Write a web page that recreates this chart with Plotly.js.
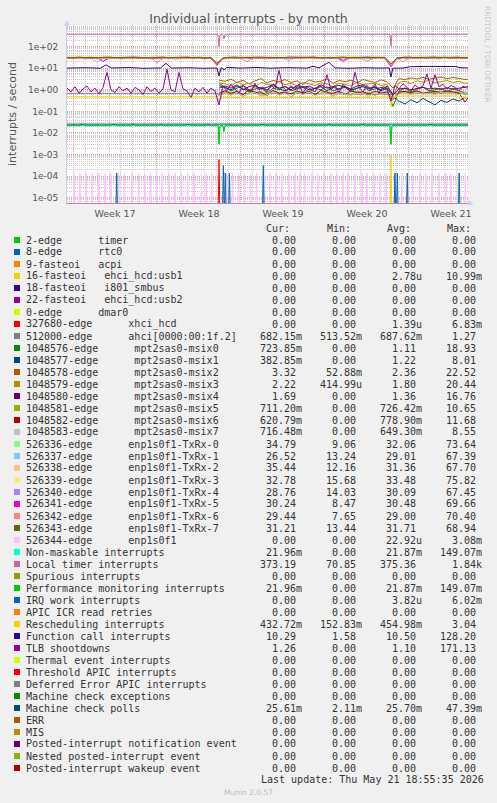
<!DOCTYPE html>
<html><head><meta charset="utf-8">
<script src="https://cdn.plot.ly/plotly-3.0.1.min.js"></script>
<style>html,body{margin:0;padding:0;background:#f0f0f0;}#chart{width:497px;height:803px;}</style>
</head><body><div id="chart"></div>
<script>
// ---------------- legend table ----------------
const labels = [
 "2-edge      timer","8-edge      rtc0","9-fasteoi   acpi","16-fasteoi   ehci_hcd:usb1","18-fasteoi   i801_smbus",
 "22-fasteoi   ehci_hcd:usb2","0-edge      dmar0","327680-edge      xhci_hcd","512000-edge      ahci[0000:00:1f.2]",
 "1048576-edge      mpt2sas0-msix0","1048577-edge      mpt2sas0-msix1","1048578-edge      mpt2sas0-msix2",
 "1048579-edge      mpt2sas0-msix3","1048580-edge      mpt2sas0-msix4","1048581-edge      mpt2sas0-msix5",
 "1048582-edge      mpt2sas0-msix6","1048583-edge      mpt2sas0-msix7",
 "526336-edge      enp1s0f1-TxRx-0","526337-edge      enp1s0f1-TxRx-1","526338-edge      enp1s0f1-TxRx-2",
 "526339-edge      enp1s0f1-TxRx-3","526340-edge      enp1s0f1-TxRx-4","526341-edge      enp1s0f1-TxRx-5",
 "526342-edge      enp1s0f1-TxRx-6","526343-edge      enp1s0f1-TxRx-7","526344-edge      enp1s0f1",
 "Non-maskable interrupts","Local timer interrupts","Spurious interrupts","Performance monitoring interrupts",
 "IRQ work interrupts","APIC ICR read retries","Rescheduling interrupts","Function call interrupts","TLB shootdowns",
 "Thermal event interrupts","Threshold APIC interrupts","Deferred Error APIC interrupts","Machine check exceptions",
 "Machine check polls","ERR","MIS","Posted-interrupt notification event","Nested posted-interrupt event",
 "Posted-interrupt wakeup event"
];
const colors = [
 "#00CC00","#0066B3","#FF8000","#FFCC00","#330099","#990099","#CCFF00","#FF0000","#808080","#008F00",
 "#00487D","#B35A00","#B38F00","#6B006B","#8FB300","#B30000","#BEBEBE","#80FF80","#80C9FF","#FFC080",
 "#FFE680","#AA80FF","#EE00CC","#FF8080","#666600","#FFBFFF","#00FFCC","#CC6699","#999900","#00CC00",
 "#0066B3","#FF8000","#FFCC00","#330099","#990099","#CCFF00","#FF0000","#808080","#008F00","#00487D",
 "#B35A00","#B38F00","#6B006B","#8FB300","#B30000"
];
const curVals = ["0.00","0.00","0.00","0.00","0.00","0.00","0.00","0.00","682.15m","723.85m","382.85m","3.32","2.22","1.69","711.20m","620.79m","716.48m",
 "34.79","26.52","35.44","32.78","28.76","30.24","29.44","31.21","0.00","21.96m","373.19","0.00","21.96m","0.00","0.00","432.72m","10.29","1.26",
 "0.00","0.00","0.00","0.00","25.61m","0.00","0.00","0.00","0.00","0.00"];
const minVals = ["0.00","0.00","0.00","0.00","0.00","0.00","0.00","0.00","513.52m","0.00","0.00","52.88m","414.99u","0.00","0.00","0.00","0.00",
 "9.06","13.24","12.16","15.68","14.03","8.47","7.65","13.44","0.00","0.00","70.85","0.00","0.00","0.00","0.00","152.83m","1.58","0.00",
 "0.00","0.00","0.00","0.00","2.11m","0.00","0.00","0.00","0.00","0.00"];
const avgVals = ["0.00","0.00","0.00","2.78u","0.00","0.00","0.00","1.39u","687.62m","1.11","1.22","2.36","1.80","1.36","726.42m","778.90m","649.30m",
 "32.06","29.01","31.36","33.48","30.09","30.48","29.00","31.71","22.92u","21.87m","375.36","0.00","21.87m","3.82u","0.00","454.98m","10.50","1.10",
 "0.00","0.00","0.00","0.00","25.70m","0.00","0.00","0.00","0.00","0.00"];
const maxVals = ["0.00","0.00","0.00","10.99m","0.00","0.00","0.00","6.83m","1.27","18.93","8.01","22.52","20.44","16.76","10.65","11.68","8.55",
 "73.64","67.39","67.70","75.82","67.45","69.66","70.40","68.94","3.08m","149.07m","1.84k","0.00","149.07m","6.02m","0.00","3.04","128.20","171.13",
 "0.00","0.00","0.00","0.00","47.39m","0.00","0.00","0.00","0.00","0.00"];
const columnHeads = ["Cur:","Min:","Avg:","Max:"];
const lastUpdate = "Last update: Thu May 21 18:55:35 2026";
const versionText = "Munin 2.0.57";

// ---------------- axes ----------------
const xRangeDays = [0, 33.42];           // days since start of graph window
const weekStarts = [0.5, 7.5, 14.5, 21.5, 28.5];
const weekLabels = ["Week 17","Week 18","Week 19","Week 20","Week 21"];
const yDecades = [1e-5,1e-4,1e-3,1e-2,1e-1,1,10,100];
const yTickText = ["1e-05","1e-04","1e-03","1e-02","1e-01","1e+00","1e+01","1e+02"];

// ---------------- series data (time in days, value in interrupts/s) ----------------
const zeroLine = [[0,0],[33.42,0]];
const xhciSpikes = [[12.67,5.9e-4]];
const usb1Spikes = [[27.0,9.0e-4]];
const irqWorkSpikes = [[4.14,1.4e-4],[13.03,3.1e-4],[13.19,1.4e-4],[13.54,1.4e-4],[16.36,3.1e-4],[27.33,1.4e-4],[27.53,1.4e-4],[28.36,1.4e-4],[32.69,1.4e-4]];
const enpSpikes = [[0.58,1.4e-4],[1.08,1.4e-4],[1.6,1.3e-4],[2.1,1.4e-4],[2.67,1.4e-4],[3.17,1.3e-4],[3.67,1.4e-4],[4.3,1.4e-4],[4.8,1.3e-4],[5.4,1.4e-4],
 [5.97,1.4e-4],[6.5,1.3e-4],[6.97,1.4e-4],[7.47,1.4e-4],[7.9,1.3e-4],[8.5,1.4e-4],[9.0,1.4e-4],[9.56,1.3e-4],[10.06,1.4e-4],[10.6,1.4e-4],
 [11.2,1.3e-4],[11.6,1.4e-4],[12.06,1.4e-4],[13.3,1.3e-4],[13.8,1.4e-4],[14.3,1.4e-4],[14.8,1.3e-4],[15.3,1.4e-4],[15.8,1.4e-4],[16.4,1.3e-4],
 [16.9,1.4e-4],[17.4,1.4e-4],[17.9,1.3e-4],[18.5,1.4e-4],[19.0,1.4e-4],[19.4,1.3e-4],[19.8,1.4e-4],[20.4,1.4e-4],[20.9,1.3e-4],[21.4,1.4e-4],
 [22.0,1.4e-4],[22.5,1.3e-4],[23.0,1.4e-4],[23.4,1.4e-4],[24.0,1.3e-4],[24.6,1.4e-4],[25.0,1.4e-4],[25.6,1.3e-4],[26.1,1.4e-4],[26.6,1.4e-4],
 [27.33,1.3e-4],[27.9,1.4e-4],[28.4,1.4e-4],[28.8,1.3e-4],[29.4,1.4e-4],[29.9,1.4e-4],[30.4,1.3e-4],[31.0,1.4e-4],[31.6,1.4e-4],[32.0,1.3e-4],
 [32.6,1.4e-4],[33.2,1.4e-4]];

const ahci = [[0,0.69],[6,0.70],[12.6,0.69],[12.67,0.55],[12.8,0.69],[20,0.68],[27.0,0.6],[27.1,0.69],[33.42,0.68]];
const localTimer = [[0,376],[12.58,376],[12.67,100],[12.75,360],[12.98,376],[13.08,230],[13.17,376],[26.92,376],[27.0,105],[27.08,376],[33.42,376]];
const nmi = [[0,0.0219],[12.6,0.0219],[12.67,0.0031],[12.75,0.0219],[13.0,0.0219],[13.08,0.0118],[13.17,0.0219],[26.92,0.0219],[27.0,0.003],[27.08,0.0219],[33.42,0.0219]];
const perfMon = [[0,0.0219],[1.1,0.0219],[1.15,0.0245],[1.4,0.0245],[1.45,0.0219],[3.7,0.0219],[3.75,0.0245],[4.0,0.0245],[4.05,0.0219],
 [5.4,0.0219],[5.45,0.0245],[5.6,0.0245],[5.65,0.0219],[7.7,0.0219],[7.75,0.0245],[7.9,0.0245],[7.95,0.0219],[9.9,0.0219],[9.95,0.0245],
 [10.2,0.0245],[10.25,0.0219],[11.6,0.0219],[11.65,0.0245],[11.85,0.0245],[11.9,0.0219],[12.6,0.0219],[12.67,0.0031],[12.75,0.0219],[13.0,0.0219],
 [13.08,0.0118],[13.17,0.0219],[16.1,0.0219],[16.15,0.0245],[16.35,0.0245],[16.4,0.0219],[21.7,0.0219],[21.75,0.0245],[21.95,0.0245],[22.0,0.0219],
 [24.5,0.0219],[24.55,0.0245],[24.75,0.0245],[24.8,0.0219],[26.92,0.0219],[27.0,0.003],[27.08,0.0219],[30.1,0.0219],[30.15,0.0245],[30.35,0.0245],
 [30.4,0.0219],[33.42,0.0219]];
const mcePolls = [[0,0.0257],[12.6,0.0257],[12.75,0.0255],[33.42,0.0257]];
const rescheduling = [[0,0.47],[1.5,0.46],[3,0.48],[4.5,0.46],[6,0.47],[7.5,0.45],[9,0.47],[10.5,0.46],[12.5,0.47],[12.67,0.3],[12.85,0.45],
 [14,0.44],[16,0.46],[18,0.44],[20,0.46],[22,0.45],[24,0.44],[26.9,0.46],[27.0,0.16],[27.1,0.48],[28,0.52],[29.5,0.54],[31,0.52],[32.5,0.53],[32.75,0.4],[33.0,0.45],[33.42,0.44]];
const functionCall = [[0,10.2],[1.5,10.6],[2.8,10.1],[3.25,14.5],[3.7,10.3],[5.2,10.8],[6.4,10.0],[7.8,10.4],[8.25,17],[8.7,10.2],[10.2,10.6],
 [11.4,10.0],[12.5,10.3],[12.67,4.4],[12.85,10.8],[13.08,8.4],[13.3,11.0],[14.5,10.2],[15.8,10.9],[17.0,10.1],[18.4,10.7],[20.0,10.2],[20.5,12.3],
 [21.0,10.4],[21.83,19],[22.3,10.5],[23.5,10.0],[24.8,10.6],[26.0,10.2],[26.85,10.4],[27.0,3.9],[27.15,10.0],[28.0,10.3],[28.6,11.8],[30.0,12.2],
 [31.5,11.6],[32.4,12.0],[32.8,10.6],[33.42,10.4]];

// half-day samples from day 0
const txStart = 0, txStep = 0.5;
const txrx0 = [31,33,30,32,34,31,29,33,32,30,31,34,32,30,33,31,29,32,33,31,30,34,32,31,30,16,28,33,31,32,34,30,31,33,32,29,31,33,30,32,34,31,30,32,33,31,29,32,34,31,30,33,32,31,13,29,33,31,32,34,30,31,33,32,30,31,33,32];
const txrx1 = [29,28,30,27,29,19,30,28,29,27,30,28,29,31,27,29,28,30,26,29,28,30,29,27,29,15,27,30,28,29,31,28,29,27,30,28,29,22,30,28,29,31,28,27,30,29,28,30,29,27,29,28,30,29,14,27,30,28,29,31,28,29,27,30,29,28,30,29];
const txrx2 = [32,30,31,33,30,32,31,29,32,31,33,30,31,32,29,31,33,30,32,31,30,32,31,33,30,17,29,32,31,33,30,31,32,30,33,31,29,32,31,30,33,31,32,30,31,33,30,32,31,29,32,31,30,33,16,30,32,31,33,30,31,32,30,33,31,30,32,31];
const txrx3 = [34,33,35,32,34,33,35,34,32,34,33,35,34,32,34,35,33,34,32,35,34,33,35,32,34,18,31,34,33,35,33,34,32,35,34,33,34,32,35,33,34,35,33,32,34,33,35,34,32,33,34,33,35,32,17,31,34,35,33,34,32,35,34,33,34,32,35,33];
const txrx4 = [30,31,29,30,28,31,30,29,31,30,29,31,30,28,30,31,29,30,31,28,30,29,31,30,29,16,28,31,30,29,30,31,29,30,28,31,30,29,31,30,29,30,31,29,30,28,31,30,29,31,30,29,31,30,15,29,31,30,29,30,31,29,30,31,28,30,29,31];
const txrx5 = [31,30,29,31,30,32,21,30,31,29,30,31,29,32,30,31,30,29,31,30,32,30,31,29,30,14,29,31,30,32,30,29,31,30,32,30,31,29,30,31,30,32,29,31,30,31,23,30,29,31,32,30,31,29,12,29,31,30,32,30,29,31,30,32,30,31,29,30];
const txrx6 = [29,30,28,29,31,28,30,29,28,30,29,28,30,29,31,18,29,28,30,29,28,30,29,31,28,13,27,29,30,28,20,29,30,28,29,31,28,30,29,28,30,29,28,31,29,30,19,29,28,30,21,29,31,28,11,29,20,30,28,29,30,28,29,31,29,28,30,29];
const txrx7 = [32,31,33,31,32,30,32,33,31,32,31,33,32,31,30,32,33,31,32,31,33,31,32,30,32,17,30,32,33,31,32,31,33,32,30,32,31,33,32,31,32,33,31,32,30,32,33,31,32,31,33,32,31,32,16,30,32,33,31,32,31,33,32,31,32,33,31,32];

// half-day samples starting at the reboot (day 12.67)
const msixStart = 12.67, msixStep = 0.5;
const msix0 = [2.0,1.4,0.9,1.2,1.6,0.8,1.1,1.3,0.7,1.2,1.0,1.5,0.9,1.1,1.3,0.8,1.2,1.0,1.4,0.9,1.1,1.3,0.8,1.2,1.5,0.9,1.1,1.3,1.0,0.17,0.9,1.2,0.8,1.1,1.3,0.9,1.0,1.2,0.8,1.1,0.9,0.7,0.75];
const msix1 = [1.6,1.3,1.0,1.5,1.1,0.9,1.4,1.2,1.0,1.6,1.1,0.9,1.3,1.2,1.5,1.0,1.2,1.4,0.9,1.3,1.1,1.5,1.0,1.2,1.4,1.1,1.3,0.9,1.2,0.5,0.3,0.22,0.35,0.25,0.4,0.28,0.2,0.33,0.26,0.38,0.3,0.45,0.38];
const msix2 = [2.8,2.5,3.1,2.2,2.8,1.9,2.6,3.3,2.1,2.7,2.4,3.0,2.2,2.6,1.8,2.9,2.3,2.5,3.2,2.0,2.7,2.4,2.8,2.1,3.0,2.5,2.2,2.9,2.4,1.2,3.3,3.0,3.6,3.2,3.8,3.1,3.5,3.9,3.3,3.7,3.4,3.0,3.2];
const msix3 = [2.1,1.9,1.5,2.3,1.7,2.0,1.4,2.2,1.8,1.6,2.4,1.7,2.0,1.5,2.2,1.8,1.6,2.1,1.9,1.4,2.0,1.8,1.5,2.3,1.7,1.9,2.1,1.6,1.8,0.5,2.2,2.5,2.0,2.6,2.3,2.8,2.1,2.4,2.7,2.2,2.5,2.0,2.2];
const msix4 = [1.2,1.5,1.2,1.7,1.0,1.4,1.6,1.1,1.3,1.8,1.2,1.4,1.0,1.6,1.3,1.5,1.1,1.7,1.2,1.4,1.6,1.3,1.1,1.5,1.7,1.2,1.4,1.0,1.5,0.6,1.1,1.2,1.0,1.15,1.3,1.1,1.2,1.05,1.25,1.1,1.2,1.3,1.6];
const msix5 = [0.6,0.8,0.6,0.9,0.5,0.75,0.85,0.55,0.7,0.9,0.6,0.75,0.45,0.8,0.65,0.9,0.6,0.7,0.85,0.5,0.8,0.7,0.6,0.9,0.65,0.75,0.55,0.8,0.7,0.4,0.75,0.8,0.7,0.85,0.65,0.8,0.75,0.9,0.7,0.8,0.75,0.6,0.7];
const msix6 = [0.7,0.9,0.7,0.85,0.6,1.0,0.75,0.8,0.55,0.95,0.7,0.8,0.65,0.9,0.7,0.85,0.6,0.95,0.75,0.7,0.85,0.6,0.9,0.75,0.8,0.65,0.85,0.7,0.8,0.35,0.8,0.85,0.75,0.9,0.7,0.8,0.85,0.75,0.9,0.8,0.7,0.27,0.62];
const msix7 = [0.5,0.7,0.55,0.8,0.5,0.65,0.75,0.5,0.6,0.8,0.55,0.7,0.45,0.75,0.6,0.8,0.55,0.65,0.7,0.5,0.75,0.6,0.55,0.7,0.65,0.5,0.75,0.6,0.7,0.4,0.65,0.7,0.6,0.75,0.65,0.7,0.6,0.75,0.65,0.7,0.6,0.7,0.7];

// third-of-a-day samples from day 0
const tlbStart = 0, tlbStep = 1/3;
const tlb = [1.2,0.8,1.4,0.7,1.1,1.5,0.8,1.2,0.65,1.3,6.4,1.0,0.75,1.4,0.9,1.2,0.7,1.3,1.0,0.6,1.4,0.85,1.2,0.7,1.1,9,1.0,0.8,6.4,1.1,0.9,0.45,1.2,0.8,1.3,0.7,1.2,0.9,
 0.2,1.5,0.9,1.8,1.1,0.7,1.6,1.2,0.8,2.0,1.0,1.4,0.8,1.7,1.1,8.0,1.3,0.9,1.6,1.0,1.9,0.7,1.4,1.1,0.8,1.7,1.2,5.0,1.0,1.5,0.75,1.8,1.1,0.9,6.5,1.3,0.8,1.6,1.0,1.9,0.7,1.4,
 1.2,0.3,1.6,1.1,1.9,1.3,0.9,1.7,1.2,1.5,5.5,1.2,5.0,1.4,1.8,1.1,1.6,1.3,0.9,1.5,1.2,1.4];

// ---------------- helpers ----------------
const FLOOR = 1e-6;           // zero values are drawn clamped below the log-axis floor (as rrdtool does)
const SAMPLE = 1/12;          // 2-hour rrd step, in days
const pos = v => (v > 0 ? v : FLOOR);
const fromPairs = p => ({x: p.map(a => a[0]), y: p.map(a => pos(a[1]))});
const fromGrid = (start, step, vals) => ({x: vals.map((v, i) => start + i * step), y: vals.map(pos)});
const fromSpikes = ev => { const x = [], y = []; ev.forEach(([t, v]) => { x.push(t - SAMPLE, t, t + SAMPLE); y.push(FLOOR, v, FLOOR); }); return {x, y}; };

const seriesData = [
 fromPairs(zeroLine), fromPairs(zeroLine), fromPairs(zeroLine), fromSpikes(usb1Spikes), fromPairs(zeroLine),
 fromPairs(zeroLine), fromPairs(zeroLine), fromSpikes(xhciSpikes), fromPairs(ahci),
 fromGrid(msixStart, msixStep, msix0), fromGrid(msixStart, msixStep, msix1), fromGrid(msixStart, msixStep, msix2),
 fromGrid(msixStart, msixStep, msix3), fromGrid(msixStart, msixStep, msix4), fromGrid(msixStart, msixStep, msix5),
 fromGrid(msixStart, msixStep, msix6), fromGrid(msixStart, msixStep, msix7),
 fromGrid(txStart, txStep, txrx0), fromGrid(txStart, txStep, txrx1), fromGrid(txStart, txStep, txrx2),
 fromGrid(txStart, txStep, txrx3), fromGrid(txStart, txStep, txrx4), fromGrid(txStart, txStep, txrx5),
 fromGrid(txStart, txStep, txrx6), fromGrid(txStart, txStep, txrx7), fromSpikes(enpSpikes),
 fromPairs(nmi), fromPairs(localTimer), fromPairs(zeroLine), fromPairs(perfMon),
 fromSpikes(irqWorkSpikes), fromPairs(zeroLine), fromPairs(rescheduling), fromPairs(functionCall), fromGrid(tlbStart, tlbStep, tlb),
 fromPairs(zeroLine), fromPairs(zeroLine), fromPairs(zeroLine), fromPairs(zeroLine),
 fromPairs(mcePolls), fromPairs(zeroLine), fromPairs(zeroLine), fromPairs(zeroLine), fromPairs(zeroLine),
 fromPairs(zeroLine)
];

const traces = seriesData.map((d, k) => ({
  type: 'scatter', mode: 'lines', x: d.x, y: d.y, name: labels[k],
  line: {color: colors[k], width: 1}, hoverinfo: 'skip', showlegend: false
}));

// ---------------- page geometry ----------------
const W = 497, H = 803;
const PL = 67, PR = 468, PT = 25, PB = 203;
const xp = px => (px - PL) / (PR - PL);
const yp = py => (PB - py) / (PB - PT);
const ROW0 = 240, ROWH = 12, HEADY = 228;
const mono = {family: 'DejaVu Sans Mono', size: 10, color: '#333'};
const nb = s => s.replace(/ /g, '\u00A0');

const annotations = [];
const shapes = [];
const colRight = [301.7, 361.9, 422.1, 482.3];
const headLeft = [266, 327, 387, 447];
columnHeads.forEach((h, j) => annotations.push({xref:'paper', yref:'paper', x: xp(headLeft[j]), y: yp(HEADY), xanchor:'left', yanchor:'middle',
  text: h, showarrow:false, font: mono, borderpad:0, borderwidth:0}));
const cols = [curVals, minVals, avgVals, maxVals];
labels.forEach((lab, i) => {
  const ry = ROW0 + ROWH * i;
  shapes.push({type:'rect', xref:'paper', yref:'paper', x0: xp(14), x1: xp(20), y0: yp(ry + 3), y1: yp(ry - 3),
    fillcolor: colors[i], line: {width: 0}});
  annotations.push({xref:'paper', yref:'paper', x: xp(26), y: yp(ry), xanchor:'left', yanchor:'middle',
    text: nb(lab), showarrow:false, font: mono, borderpad:0, borderwidth:0});
  cols.forEach((c, j) => {
    const v = c[i];
    const txt = /[0-9]$/.test(v) ? v + '\u00A0' : v;
    annotations.push({xref:'paper', yref:'paper', x: xp(colRight[j]), y: yp(ry), xanchor:'right', yanchor:'middle',
      text: txt, showarrow:false, font: mono, borderpad:0, borderwidth:0});
  });
});
annotations.push({xref:'paper', yref:'paper', x: xp(483.5), y: yp(779.5), xanchor:'right', yanchor:'middle',
  text: nb(lastUpdate), showarrow:false, font: mono, borderpad:0, borderwidth:0});
annotations.push({xref:'paper', yref:'paper', x: xp(248), y: yp(792), xanchor:'center', yanchor:'middle',
  text: versionText, showarrow:false, font: {family:'DejaVu Sans', size:7.5, color:'#bbbbbb'}, borderpad:0, borderwidth:0});
annotations.push({xref:'paper', yref:'paper', x: xp(487), y: yp(54), xanchor:'center', yanchor:'middle', textangle: 90,
  text: 'RRDTOOL / TOBI OETIKER', showarrow:false, font: {family:'DejaVu Sans', size:7.5, color:'#c8c8c8'}, borderpad:0, borderwidth:0});
// axis arrow heads
annotations.push({xref:'paper', yref:'paper', x: xp(67), y: yp(23), xanchor:'center', yanchor:'middle',
  text: '\u25B2', showarrow:false, font: {family:'DejaVu Sans', size:7, color:'#c8cff2'}, borderpad:0, borderwidth:0});
annotations.push({xref:'paper', yref:'paper', x: xp(471), y: yp(203), xanchor:'center', yanchor:'middle',
  text: '\u25B6', showarrow:false, font: {family:'DejaVu Sans', size:7, color:'#c8cff2'}, borderpad:0, borderwidth:0});

const gridGray = '#c8c8c8', gridRed = '#e0a0a0';
const layout = {
  width: W, height: H,
  paper_bgcolor: '#f0f0f0', plot_bgcolor: '#ffffff',
  margin: {l: PL, r: W - PR, t: PT, b: H - PB, pad: 0},
  showlegend: false,
  font: {family: 'DejaVu Sans', color: '#555'},
  title: {text: 'Individual interrupts - by month', font: {family: 'DejaVu Sans', size: 12.5, color: '#555'},
    xref: 'container', x: 0.5, xanchor: 'center', yref: 'container', y: 1 - 18.5 / H, yanchor: 'middle'},
  xaxis: {
    range: xRangeDays, tickmode: 'array', tickvals: weekStarts, ticktext: weekLabels,
    ticklabelshift: 42, ticklabelstandoff: 2,
    showgrid: true, gridcolor: gridRed, griddash: '1px,1px', gridwidth: 1,
    minor: {tickmode: 'linear', tick0: 0.5, dtick: 1, showgrid: true, gridcolor: gridGray, griddash: '1px,1px', ticks: ''},
    zeroline: false, showline: true, linecolor: '#c87f9f', linewidth: 1, ticks: '',
    tickfont: {family: 'DejaVu Sans', size: 9.5, color: '#555'}, fixedrange: true
  },
  yaxis: {
    type: 'log', range: [-5.246, 3.006], tickmode: 'array', tickvals: yDecades, ticktext: yTickText,
    showgrid: true, gridcolor: gridRed, griddash: '1px,1px', gridwidth: 1,
    minor: {dtick: 'D1', showgrid: true, gridcolor: gridGray, griddash: '1px,1px', ticks: ''},
    zeroline: false, showline: true, linecolor: '#c8cff2', linewidth: 1, ticks: '',
    ticklabelstandoff: 6,
    tickfont: {family: 'DejaVu Sans', size: 9, color: '#555'},
    title: {text: 'interrupts / second', font: {family: 'DejaVu Sans', size: 11, color: '#555'}, standoff: 9},
    fixedrange: true
  },
  annotations: annotations,
  shapes: shapes
};
Plotly.newPlot('chart', traces, layout, {staticPlot: true, displayModeBar: false});
</script></body></html>
